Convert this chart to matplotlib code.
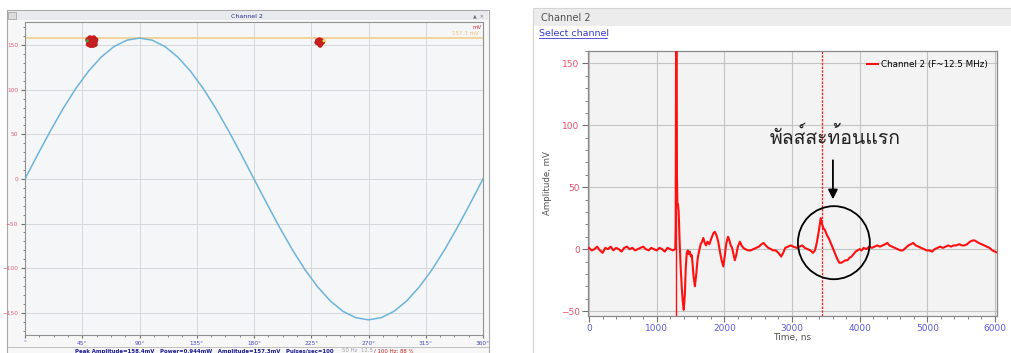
import matplotlib
matplotlib.use('Agg')
import matplotlib.pyplot as plt
import matplotlib.patches as mpatches
from matplotlib import font_manager
from matplotlib.ft2font import FT2Font
from matplotlib.ticker import MultipleLocator

# ---- ข้อมูลกราฟซ้าย (เฟส / แอมพลิจูด) ----
phase_deg = list(range(0, 361, 10))
sine_mv = [0, 27.4, 54.0, 79.0, 101.6, 121.0, 136.8, 148.5, 155.6, 158.0,
           155.6, 148.5, 136.8, 121.0, 101.6, 79.0, 54.0, 27.4, 0,
           -27.4, -54.0, -79.0, -101.6, -121.0, -136.8, -148.5, -155.6, -158.0,
           -155.6, -148.5, -136.8, -121.0, -101.6, -79.0, -54.0, -27.4, 0]
phase_ticks = [0, 45, 90, 135, 180, 225, 270, 315, 360]
phase_labels = ['°', '45°', '90°', '135°', '180°', '225°', '270°', '315°', '360°']
level_mv = 158.0
pulse1_deg = [49.5, 51, 52.5, 54, 55.5, 50.5, 52, 54, 55, 51.5, 53.5, 52.5, 50, 55]
pulse1_mv = [156, 158, 157, 158, 156, 153, 152, 153, 154, 150, 150, 154, 151, 151]
pulse2_deg = [230, 231.5, 233, 234, 231, 232.5, 233.5, 229.5, 232]
pulse2_mv = [155, 156, 155, 154, 152, 152, 153, 153, 150]
status_parts = ['Peak Amplitude=158.4mV   Power=0.944mW   Amplitude=157.3mV   Pulses/sec=100',
                '50 Hz  12.5', '/ 100 Hz: 88 %']

# ---- ข้อมูลกราฟขวา (สัญญาณเวลา) ----
time_ns = [0, 40, 80, 120, 160, 200, 240, 280, 320, 360, 400, 440, 480, 520, 560, 600,
           640, 680, 720, 760, 800, 840, 880, 920, 960, 1000, 1040, 1080, 1120, 1160,
           1200, 1240, 1275, 1281, 1287, 1294, 1300, 1305, 1315, 1325, 1340, 1355, 1370,
           1385, 1400, 1415, 1430, 1445, 1460, 1475, 1490, 1505, 1520, 1545, 1565, 1585,
           1605, 1625, 1650, 1670, 1690, 1710, 1730, 1750, 1780, 1810, 1840, 1860, 1885,
           1910, 1935, 1960, 1985, 2005, 2030, 2055, 2075, 2095, 2115, 2135, 2155, 2175,
           2200, 2230, 2255, 2280, 2310, 2350, 2390, 2430, 2470, 2510, 2550, 2580, 2610,
           2650, 2690, 2720, 2760, 2800, 2840, 2870, 2900, 2940, 2980, 3020, 3070, 3110,
           3150, 3190, 3230, 3270, 3310, 3340, 3370, 3400, 3425, 3445, 3465, 3490, 3520,
           3550, 3580, 3610, 3640, 3670, 3700, 3730, 3760, 3790, 3820, 3850, 3880, 3910,
           3940, 3970, 4000, 4030, 4060, 4100, 4140, 4180, 4220, 4260, 4300, 4340, 4380,
           4410, 4440, 4480, 4520, 4560, 4600, 4640, 4680, 4720, 4760, 4790, 4830, 4870,
           4910, 4950, 4990, 5030, 5070, 5110, 5150, 5190, 5230, 5270, 5310, 5350, 5390,
           5430, 5470, 5510, 5550, 5590, 5630, 5670, 5700, 5730, 5760, 5800, 5840, 5880,
           5920, 5960, 6000, 6040]
amp_mv = [1, -1, 0, 2, -1, -3, 1, 0, 2, -1, 1, 0, -2, 1, 2, 0,
          1, -1, 0, 1, 2, 0, -1, 1, 0, -1, 1, 0, -2, 1,
          0, -1, 0, 20, 175, 175, 60, 38, 36, 30, 5, -15, -30,
          -42, -49, -38, -15, -3, -1, -4, -2, -6, -5, -22, -30, -20,
          -8, -2, 4, 6, 9, 5, 3, 6, 4, 9, 13, 14, 11,
          6, -2, -9, -14, -6, 5, 10, 7, 3, 1, -4, -9, -5,
          2, 6, 3, 1, 0, -1, -1, 0, 1, 2, 4, 5, 3,
          1, 0, -1, -1, -3, -6, -3, 1, 2, 3, 2, 1, 2,
          3, 1, 0, -1, -3, -1, 6, 16, 25, 20, 17, 15, 11,
          8, 4, 0, -4, -8, -11, -11, -10, -9, -9, -7, -6, -4,
          -2, -1, 0, -1, 1, 0, 2, 1, 2, 3, 2, 3, 4,
          5, 3, 2, 1, 0, -1, -1, 1, 3, 4, 5, 3, 2,
          1, 0, -1, -1, -2, 0, 1, 2, 1, 2, 3, 2, 3,
          3, 4, 3, 3, 4, 6, 7, 7, 6, 5, 4, 3, 2,
          1, -1, -2, -3]
cursor_main_ns = 1283
cursor_echo_ns = 3440
echo_circle = (3619, 5.2)
echo_label = 'พัลส์สะท้อนแรก'

# หาฟอนต์ที่มีอักษรไทย
thai_family = []
for f in font_manager.fontManager.ttflist:
    try:
        if 0x0E1E in FT2Font(f.fname).get_charmap() and f.name not in thai_family:
            thai_family.append(f.name)
    except Exception:
        pass
thai_family = thai_family[:2] + ['DejaVu Sans']

W, H = 1011, 353
fig = plt.figure(figsize=(W / 100, H / 100), dpi=100)

# พื้นหลังแบบพิกเซล สำหรับกรอบหน้าต่าง
bg = fig.add_axes([0, 0, 1, 1], zorder=0)
bg.set_xlim(0, W)
bg.set_ylim(H, 0)
bg.axis('off')
# หน้าต่างซ้าย
bg.add_patch(mpatches.Rectangle((7, 10), 482, 345, fc='#f7f7f8', ec='#a8a8a8', lw=0.8))
bg.add_patch(mpatches.Rectangle((8, 11), 480, 9, fc='#e9eaee', ec='none'))
bg.add_patch(mpatches.Rectangle((8, 12), 8, 7, fc='#dcdcdc', ec='#9a9a9a', lw=0.5))
bg.text(247, 16, 'Channel 2', fontsize=4.5, color='#2a2a8a', ha='center', va='center')
bg.text(478, 16, '▲  ×', fontsize=3.5, color='#707070', ha='center', va='center')
bg.plot([8, 488], [347, 347], color='#b8b8b8', lw=0.6)
bg.text(75, 351, status_parts[0], fontsize=3.9, color='#1a1a90', fontweight='bold',
        ha='left', va='center')
bg.text(342, 351, status_parts[1], fontsize=3.9, color='#a0a0a8', ha='left', va='center')
bg.text(374, 351, status_parts[2], fontsize=3.9, color='#c02020', ha='left', va='center')
# หน้าต่างขวา
bg.add_patch(mpatches.Rectangle((533, 8), 480, 350, fc='white', ec='#d4d4d4', lw=0.8))
bg.add_patch(mpatches.Rectangle((534, 9), 477, 17, fc='#ececec', ec='none'))
bg.text(541, 18, 'Channel 2', fontsize=7, color='#505050', ha='left', va='center')
bg.text(539, 33, 'Select channel', fontsize=6.8, color='#3a3ad0', ha='left', va='center')
bg.plot([539, 607], [38, 38], color='#3a3ad0', lw=0.6)

# ---- กราฟซ้าย ----
ax1 = fig.add_axes([25 / W, (H - 335) / H, 458 / W, 313 / H], zorder=1)
ax1.set_facecolor('#f5f6f8')
ax1.plot(phase_deg, sine_mv, color='#6cb4dc', lw=1.1, zorder=3)
ax1.axhline(level_mv, color='#f3cf8a', lw=1.2, zorder=2)
ax1.scatter(pulse1_deg, pulse1_mv, s=16, color='#c41e1e', edgecolors='none', zorder=4)
ax1.scatter(pulse2_deg, pulse2_mv, s=14, color='#c41e1e', edgecolors='none', zorder=4)
ax1.scatter([49], [155], s=5, color='#40a040', edgecolors='none', zorder=5)
ax1.scatter([235], [155], s=5, color='#e8e040', edgecolors='none', zorder=5)
ax1.text(357, 163, '157.3 mV', fontsize=4, color='#f0c070', ha='right', va='center')
ax1.text(359, 170, 'mV', fontsize=4, color='#e03040', ha='right', va='center')
ax1.set_xlim(0, 360)
ax1.set_ylim(-175, 176)
ax1.set_xticks(phase_ticks)
ax1.set_xticklabels(phase_labels)
ax1.set_yticks([-150, -100, -50, 0, 50, 100, 150])
ax1.xaxis.set_minor_locator(MultipleLocator(11.25))
ax1.yaxis.set_minor_locator(MultipleLocator(10))
ax1.grid(True, which='major', color='#d5d7db', lw=0.7)
ax1.set_axisbelow(True)
ax1.tick_params(axis='x', which='major', labelsize=4.2, labelcolor='#4848c8', length=2,
                color='#707070', pad=2)
ax1.tick_params(axis='y', which='major', labelsize=4.2, labelcolor='#e8607a', length=3,
                color='#707070', pad=2)
ax1.tick_params(which='minor', length=1.5, color='#707070')
for s in ax1.spines.values():
    s.set_color('#909090')
    s.set_linewidth(0.8)

# ---- กราฟขวา ----
ax2 = fig.add_axes([588 / W, (H - 316) / H, 409 / W, 265 / H], zorder=1)
ax2.set_facecolor('#f3f3f3')
ax2.axvline(cursor_main_ns, color='#ff1010', lw=1.0, zorder=2)
ax2.axvline(cursor_echo_ns, color='#ff2020', lw=0.9, ls=(0, (2, 1)), zorder=2)
ax2.plot(time_ns, amp_mv, color='#ff1010', lw=1.5, zorder=3, label='Channel 2 (F~12.5 MHz)')
ax2.add_patch(mpatches.Ellipse(echo_circle, 1063, 59, fill=False, ec='black', lw=1.3, zorder=5))
ax2.annotate('', xy=(3605, 38), xytext=(3605, 74),
             arrowprops=dict(arrowstyle='-|>', color='black', lw=1.3, mutation_scale=14),
             zorder=6)
ax2.text(3640, 90, echo_label, fontsize=14, color='#222222', ha='center', va='center',
         family=thai_family, zorder=6)
ax2.set_xlim(-15, 6030)
ax2.set_ylim(-54, 160)
ax2.set_xticks([0, 1000, 2000, 3000, 4000, 5000, 6000])
ax2.set_yticks([-50, 0, 50, 100, 150])
ax2.xaxis.set_minor_locator(MultipleLocator(200))
ax2.yaxis.set_minor_locator(MultipleLocator(10))
ax2.grid(True, which='major', color='#c4c4c4', lw=0.8)
ax2.set_axisbelow(True)
ax2.tick_params(axis='x', which='major', labelsize=6.5, labelcolor='#5a5ae0', length=4,
                color='#707070', pad=2)
ax2.tick_params(axis='y', which='major', labelsize=6.5, labelcolor='#f05068', length=4,
                color='#707070', pad=2)
ax2.tick_params(which='minor', length=2.5, color='#707070')
ax2.set_xlabel('Time, ns', fontsize=6.5, color='#505050', labelpad=0)
ax2.set_ylabel('Amplitude, mV', fontsize=6.2, color='#505050', labelpad=6)
for s in ax2.spines.values():
    s.set_color('#8a8a8a')
    s.set_linewidth(0.9)
leg = ax2.legend(loc='upper right', fontsize=6.3, frameon=False, handlelength=1.2,
                 handletextpad=0.4, borderaxespad=0.6)

fig.savefig('out.png', dpi=100)
